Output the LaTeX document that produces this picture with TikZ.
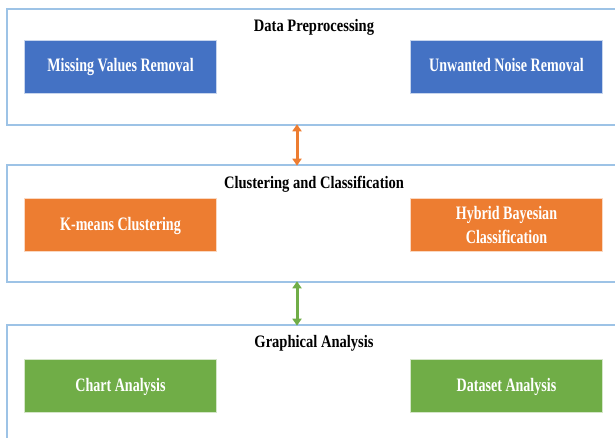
\documentclass[tikz,border=0pt]{standalone}
\usepackage{fontspec}
\setmainfont[FakeStretch=0.74]{Liberation Serif}
\newfontfamily\titlefont[FakeStretch=0.83]{Liberation Serif}
\usetikzlibrary{arrows.meta}
\definecolor{panelline}{HTML}{9DC3E6}
\definecolor{cblue}{HTML}{4472C4}
\definecolor{corange}{HTML}{ED7D31}
\definecolor{cgreen}{HTML}{70AD47}
\begin{document}
\begin{tikzpicture}[x=1pt,y=-1pt,
  panel/.style={draw=panelline,line width=1.6pt,fill=white,minimum width=618pt,minimum height=#1,inner sep=0pt},
  panel/.default=116pt,
  ptitle/.style={font=\titlefont\bfseries\fontsize{17.5}{20}\selectfont,text=black,inner sep=0pt},
  box/.style={fill=#1,draw=white!70!#1,line width=0.6pt,minimum width=192pt,minimum height=53pt,inner sep=2pt,
    text=white,font=\bfseries\fontsize{19}{24}\selectfont,align=center},
  oneline/.style={text height=14pt,text depth=3pt},
  link/.style={line width=3pt,{Triangle[length=7pt,width=9pt]}-{Triangle[length=7pt,width=9pt]},draw=#1}
]
\useasboundingbox (0,0) rectangle (615,438);
\clip (0,0) rectangle (615,438);
% panels
\node[panel=116pt] (p1) at (316,67) {};
\node[panel=117pt] (p2) at (316,223.5) {};
\node[panel=130pt] (p3) at (316,390) {};
% titles
\node[ptitle] (t1) at (314,27) {Data Preprocessing};
\node[ptitle] (t2) at (314,184) {Clustering and Classification};
\node[ptitle] (t3) at (314,343) {Graphical Analysis};
% boxes
\node[box=cblue,oneline] (b11) at (120.5,66.5) {Missing Values Removal};
\node[box=cblue,oneline] (b12) at (506.5,66.5) {Unwanted Noise Removal};
\node[box=corange,oneline] (b21) at (120.5,224.5) {K-means Clustering};
\node[box=corange] (b22) at (506.5,225) {Hybrid Bayesian\\Classification};
\node[box=cgreen,oneline] (b31) at (120.5,385.5) {Chart Analysis};
\node[box=cgreen,oneline] (b32) at (506.5,385.5) {Dataset Analysis};
% connectors
\coordinate (ax) at (297,0);
\draw[link=corange] ([yshift=1.5pt]p1.south -| ax) -- ([yshift=-1.5pt]p2.north -| ax);
\draw[link=cgreen] ([yshift=1.5pt]p2.south -| ax) -- ([yshift=-1.5pt]p3.north -| ax);
\end{tikzpicture}
\end{document}
